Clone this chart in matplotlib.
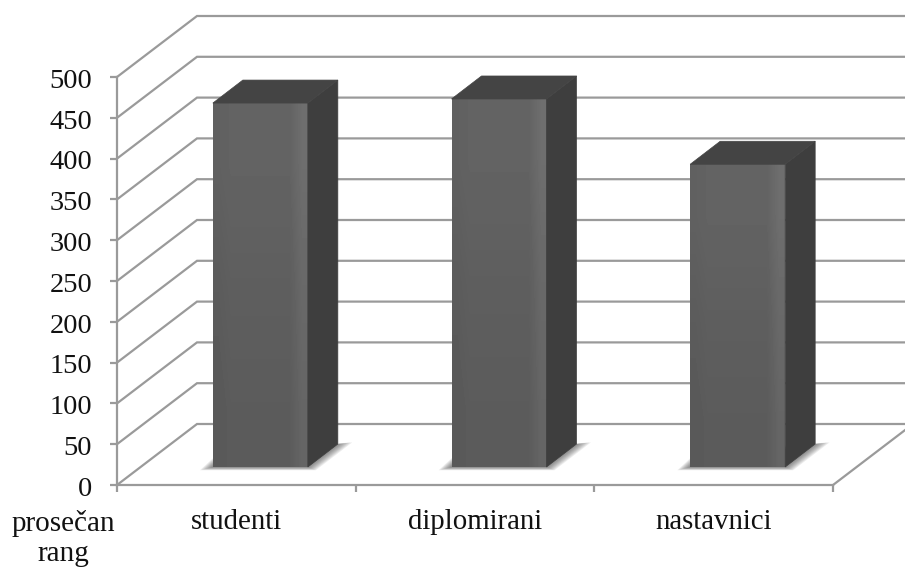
import matplotlib.pyplot as plt
import numpy as np
from matplotlib.patches import Polygon
from matplotlib.transforms import ScaledTranslation

categories = ['studenti', 'diplomirani', 'nastavnici']
values = [446, 451, 371]
y_ticks = [0, 50, 100, 150, 200, 250, 300, 350, 400, 450, 500]
axis_title = 'prosečan\nrang'

# pixel scale of the picture
W, H = 905, 568
x0_px, cat_px = 117, 238.67
y0_px, val_px = 485, 0.816

# oblique depth of the chart box, in data units
wall_dx, wall_dy = 80 / cat_px, 61 / val_px
bar_dx, bar_dy = 30 / cat_px, 23 / val_px
base_dx, base_dy = 24 / cat_px, 18 / val_px
bar_w = 95 / cat_px

grid_col = '#9a9a9a'
lw = 1.6

plt.rcParams['font.family'] = ['Liberation Serif', 'DejaVu Serif']

fig = plt.figure(figsize=(W / 100, H / 100), dpi=100)
ax = fig.add_axes([0, 0, 1, 1])
ax.set_xlim(-x0_px / cat_px, (W - x0_px) / cat_px)
ax.set_ylim((y0_px - H) / val_px, y0_px / val_px)
ax.patch.set_alpha(0)

# grid lines run up the side wall and then along the back wall
xmax = ax.get_xlim()[1]
for v in y_ticks:
    ax.plot([0, wall_dx, xmax], [v, v + wall_dy, v + wall_dy],
            color=grid_col, lw=lw, solid_joinstyle='miter', zorder=1)
ax.plot([3, 3 + wall_dx], [0, wall_dy], color=grid_col, lw=lw, zorder=1)

for spine in ['top', 'right']:
    ax.spines[spine].set_visible(False)
ax.spines['left'].set_position(('data', 0))
ax.spines['bottom'].set_position(('data', 0))
ax.spines['left'].set_bounds(0, 500)
ax.spines['bottom'].set_bounds(0, 3)
ax.spines['left'].set_color(grid_col)
ax.spines['bottom'].set_color(grid_col)
ax.spines['left'].set_linewidth(lw)
ax.spines['bottom'].set_linewidth(lw)

ax.set_yticks(y_ticks)
ax.set_xticks([0, 1, 2, 3])
ax.set_xticklabels([])
ax.tick_params(axis='both', length=5, width=lw, color=grid_col, labelsize=20.5, pad=13)
ax.tick_params(axis='y', labelcolor='#111111')
# labels sit a little below their ticks
for lab in ax.get_yticklabels():
    lab.set_transform(lab.get_transform() + ScaledTranslation(0, -1 / 72, fig.dpi_scale_trans))

for i, (name, val) in enumerate(zip(categories, values)):
    left = i + 0.5 + base_dx - bar_w / 2
    right = left + bar_w
    bottom = base_dy
    top = base_dy + val

    # soft shadow on the floor
    for k in range(8):
        g = (8 - k) * 1.0
        gx, gy = g / cat_px, g / val_px
        ax.add_patch(Polygon([(left - 1.6 * gx, bottom - 0.4 * gy),
                              (left + gx, bottom + 2 * gy),
                              (right + bar_dx + 1.8 * gx, bottom + bar_dy + 0.2 * gy),
                              (right + gx, bottom - 0.4 * gy)],
                             fc='#303030', ec='none', alpha=0.09, zorder=2))

    # front face with a slight shading
    shade = np.array([[0.36, 0.37, 0.37, 0.37, 0.37, 0.37, 0.37, 0.41]])
    shade = np.vstack([shade * 0.97, shade, shade * 1.05])
    ax.imshow(shade, extent=[left, right, bottom, top], origin='lower', aspect='auto',
              cmap='gray', vmin=0, vmax=1, interpolation='bilinear', zorder=3)
    ax.add_patch(Polygon([(right, bottom), (right + bar_dx, bottom + bar_dy),
                          (right + bar_dx, top + bar_dy), (right, top)],
                         fc='#3e3e3e', ec='#3e3e3e', lw=0.5, zorder=3))
    ax.add_patch(Polygon([(left, top), (right, top),
                          (right + bar_dx, top + bar_dy), (left + bar_dx, top + bar_dy)],
                         fc='#444444', ec='#444444', lw=0.5, zorder=3))

    ax.text(i + 0.5, -45, name, ha='center', va='center', fontsize=20.8, color='#111111')

ax.set_xlim(-x0_px / cat_px, (W - x0_px) / cat_px)
ax.set_ylim((y0_px - H) / val_px, y0_px / val_px)

ax.text(-54 / cat_px, -65.5, axis_title, ha='center', va='center', fontsize=21,
        color='#111111', linespacing=1.22)

fig.savefig('out.png', dpi=100)
